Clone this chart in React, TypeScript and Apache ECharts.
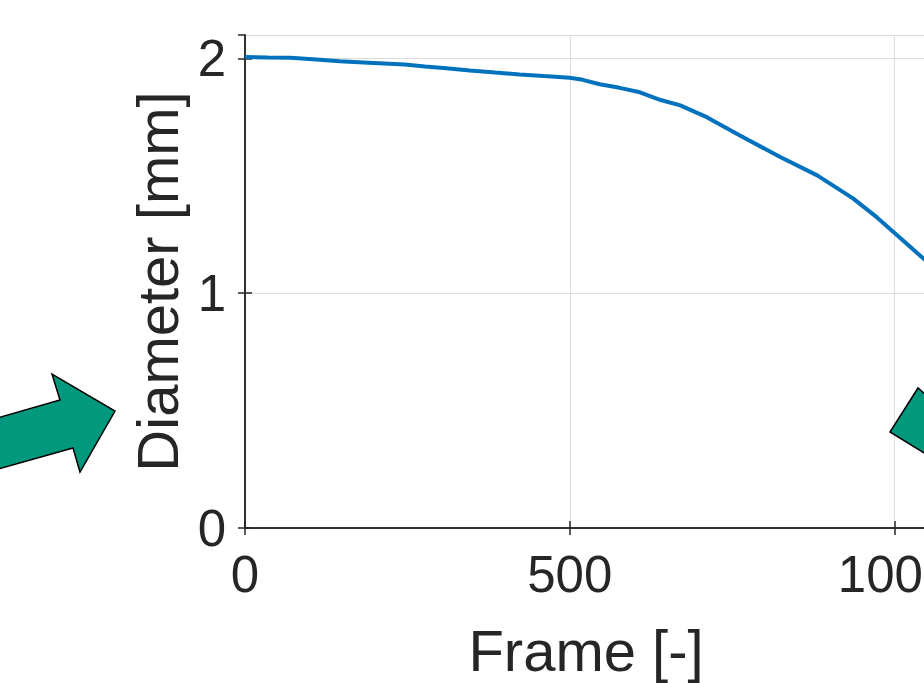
import React, { useEffect, useRef } from "react";
import * as echarts from "echarts";

// Data
const frames = [0, 35, 70, 110, 146, 190, 246, 277, 310, 346, 385, 423, 460, 500, 520, 546, 575, 608, 640, 670, 711, 762, 824, 881, 936, 973, 1004, 1044, 1050];
const diameters = [2.006, 2.004, 2.003, 1.996, 1.988, 1.982, 1.974, 1.966, 1.958, 1.949, 1.940, 1.932, 1.925, 1.918, 1.909, 1.890, 1.876, 1.856, 1.823, 1.800, 1.750, 1.672, 1.580, 1.502, 1.404, 1.323, 1.247, 1.149, 1.135];
const xTicks = [0, 500, 1000];
const yTicks = [0, 1, 2];

const FONT = "'Liberation Sans', Arial, Helvetica, sans-serif";
const TEXT = "#262626";
const ARROW_FILL = "#00997D";

export default function App() {
  const ref = useRef<HTMLDivElement>(null);
  useEffect(() => {
    if (!ref.current) return;
    const chart = echarts.init(ref.current, undefined, { renderer: "svg" });
    const axisLine = { show: true, lineStyle: { color: TEXT, width: 1.5 } };
    const tick = { show: true, inside: true, length: 7, lineStyle: { color: TEXT, width: 1.5 } };
    chart.setOption({
      animation: false,
      backgroundColor: "#ffffff",
      grid: {
        left: 245,
        top: 35,
        width: 682,
        height: 493,
        containLabel: false,
        outerBoundsMode: "none",
      },
      xAxis: [
        {
          type: "value",
          min: 0,
          max: 1050,
          interval: 500,
          position: "bottom",
          axisLine,
          axisTick: tick,
          splitLine: { show: true, lineStyle: { color: "#dcdcdc", width: 1 } },
          axisLabel: {
            color: TEXT,
            fontFamily: FONT,
            fontSize: 51,
            margin: 21,
            showMaxLabel: false,
            hideOverlap: false,
            formatter: (v: number) => (xTicks.includes(v) ? String(v) : ""),
          },
          name: "Frame [-]",
          nameLocation: "middle",
          nameGap: 93,
          nameTextStyle: { color: TEXT, fontFamily: FONT, fontSize: 58 },
        },
        {
          type: "value",
          min: 0,
          max: 1050,
          interval: 500,
          position: "top",
          axisLine,
          axisTick: tick,
          splitLine: { show: false },
          axisLabel: { show: false },
        },
      ],
      yAxis: [
        {
          type: "value",
          min: 0,
          max: 2.1,
          interval: 1,
          position: "left",
          axisLine,
          axisTick: tick,
          splitLine: { show: true, lineStyle: { color: "#dcdcdc", width: 1 } },
          axisLabel: {
            color: TEXT,
            fontFamily: FONT,
            fontSize: 51,
            margin: 19,
            showMaxLabel: false,
            formatter: (v: number) => (yTicks.includes(v) ? String(v) : ""),
          },
          name: "Diameter [mm]",
          nameLocation: "middle",
          nameGap: 54,
          nameTextStyle: { color: TEXT, fontFamily: FONT, fontSize: 58 },
        },
        {
          type: "value",
          min: 0,
          max: 2.1,
          interval: 1,
          position: "right",
          axisLine,
          axisTick: tick,
          splitLine: { show: false },
          axisLabel: { show: false },
        },
      ],
      series: [
        {
          type: "line",
          data: frames.map((f, i) => [f, diameters[i]]),
          showSymbol: false,
          lineStyle: { color: "#0072BD", width: 4 },
          z: 3,
        },
      ],
      graphic: [
        {
          type: "polygon",
          z: 100,
          shape: {
            points: [
              [-20, 423], [60, 400], [52, 374], [115, 411], [80, 472], [73, 448], [-20, 474],
            ],
          },
          style: { fill: ARROW_FILL, stroke: "#000", lineWidth: 1.5 },
        },
        {
          type: "polygon",
          z: 100,
          shape: {
            points: [
              [890, 432], [918, 388], [960, 425], [960, 475],
            ],
          },
          style: { fill: ARROW_FILL, stroke: "#000", lineWidth: 1.5 },
        },
      ],
    });
    return () => chart.dispose();
  }, []);
  return (
    <div
      ref={ref}
      style={{ position: "fixed", left: 0, top: 0, width: 924, height: 683, background: "#fff" }}
    />
  );
}
